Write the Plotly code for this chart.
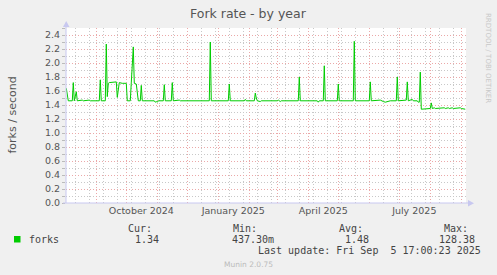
import plotly.graph_objects as go

# ---- data ----
dates = [
    "2024-08-02", "2024-08-04", "2024-08-08", "2024-08-09", "2024-08-10", "2024-08-12", "2024-08-13",
    "2024-08-18", "2024-08-19", "2024-08-25", "2024-08-26", "2024-09-04", "2024-09-05", "2024-09-06",
    "2024-09-10", "2024-09-11", "2024-09-12", "2024-09-13", "2024-09-14", "2024-09-20", "2024-09-21",
    "2024-09-22", "2024-09-24", "2024-09-27", "2024-10-01", "2024-10-02", "2024-10-05", "2024-10-06",
    "2024-10-08", "2024-10-09", "2024-10-11", "2024-10-13", "2024-10-15", "2024-10-16", "2024-10-17",
    "2024-10-29", "2024-10-30", "2024-10-31", "2024-11-01", "2024-11-02", "2024-11-07", "2024-11-08",
    "2024-11-09", "2024-11-15", "2024-11-16", "2024-11-17", "2024-11-23", "2024-11-24", "2024-12-04",
    "2024-12-05", "2024-12-07", "2024-12-08", "2024-12-23", "2024-12-24", "2024-12-25", "2025-01-11",
    "2025-01-12", "2025-01-13", "2025-01-27", "2025-01-28", "2025-01-29", "2025-02-06", "2025-02-07",
    "2025-02-08", "2025-02-09", "2025-02-12", "2025-02-13", "2025-03-01", "2025-03-02", "2025-03-04",
    "2025-03-05", "2025-03-22", "2025-03-23", "2025-03-24", "2025-04-10", "2025-04-11", "2025-04-12",
    "2025-04-16", "2025-04-17", "2025-04-18", "2025-04-30", "2025-05-01", "2025-05-02", "2025-05-16",
    "2025-05-17", "2025-05-18", "2025-06-01", "2025-06-02", "2025-06-03", "2025-06-12", "2025-06-13",
    "2025-06-15", "2025-06-17", "2025-06-20", "2025-06-22", "2025-06-28", "2025-06-29", "2025-06-30",
    "2025-07-07", "2025-07-08", "2025-07-09", "2025-07-10", "2025-07-14", "2025-07-15", "2025-07-19",
    "2025-07-20", "2025-07-21", "2025-07-22", "2025-07-23", "2025-08-01", "2025-08-02", "2025-08-03",
    "2025-08-05", "2025-08-06", "2025-08-15", "2025-08-16", "2025-08-19", "2025-08-20", "2025-08-23",
    "2025-08-24", "2025-08-31", "2025-09-01", "2025-09-05",
]
forks = [
    1.64, 1.46, 1.46, 1.72, 1.46, 1.59, 1.46,
    1.47, 1.46, 1.47, 1.46, 1.46, 1.76, 1.46,
    1.46, 2.27, 1.52, 1.71, 1.72, 1.72, 1.73,
    1.51, 1.72, 1.71, 1.71, 1.46, 1.46, 1.72,
    2.23, 1.71, 1.70, 1.46, 1.46, 1.68, 1.46,
    1.46, 1.44, 1.45, 1.44, 1.46, 1.46, 1.69,
    1.46, 1.46, 1.72, 1.46, 1.47, 1.46, 1.46,
    1.45, 1.45, 1.46, 1.46, 2.30, 1.46, 1.46,
    1.70, 1.46, 1.46, 1.48, 1.46, 1.46, 1.57,
    1.50, 1.46, 1.45, 1.46, 1.46, 1.47, 1.45,
    1.46, 1.46, 1.80, 1.46, 1.46, 1.44, 1.46,
    1.46, 1.96, 1.46, 1.46, 1.70, 1.46, 1.46,
    2.31, 1.46, 1.46, 1.73, 1.46, 1.47, 1.46,
    1.45, 1.44, 1.45, 1.46, 1.46, 1.80, 1.46,
    1.46, 1.47, 1.73, 1.46, 1.48, 1.46, 1.46,
    1.44, 1.44, 1.87, 1.34, 1.35, 1.43, 1.35,
    1.36, 1.35, 1.36, 1.35, 1.36, 1.35, 1.36,
    1.35, 1.36, 1.35, 1.34,
]

x_start = "2024-08-01 17:00"
x_end = "2025-09-05 17:00"

month_starts = ["2024-09-01", "2024-10-01", "2024-11-01", "2024-12-01", "2025-01-01", "2025-02-01",
                "2025-03-01", "2025-04-01", "2025-05-01", "2025-06-01", "2025-07-01", "2025-08-01",
                "2025-09-01"]
minor_grid_dates = ["2024-08-11", "2024-08-25", "2024-09-08", "2024-09-22", "2024-10-06", "2024-10-20",
                    "2024-11-03", "2024-11-17", "2024-12-01", "2024-12-15", "2024-12-29", "2025-01-12",
                    "2025-01-26", "2025-02-09", "2025-02-23", "2025-03-09", "2025-03-23", "2025-04-06",
                    "2025-04-20", "2025-05-04", "2025-05-18", "2025-06-01", "2025-06-15", "2025-06-29",
                    "2025-07-13", "2025-07-27", "2025-08-10", "2025-08-24"]
label_dates = ["2024-10-16", "2025-01-16", "2025-04-16", "2025-07-16"]
label_text = ["October 2024", "January 2025", "April 2025", "July 2025"]

y_ticks = [0.0, 0.2, 0.4, 0.6, 0.8, 1.0, 1.2, 1.4, 1.6, 1.8, 2.0, 2.2, 2.4]

legend_name = "forks"
stat_headers = ["Cur:", "Min:", "Avg:", "Max:"]
stat_values = ["1.34", "437.30m", "1.48", "128.38"]
last_update = "Last update: Fri Sep \u00a05 17:00:23 2025"

# ---- layout geometry ----
FW, FH = 497, 275
L, T, W, H = 66, 28, 400, 175
BOTTOM = FH - T - H


def px(x):
    return (x - L) / W


def py(y):
    return (T + H - y) / H


LINE_GREEN = "#00CC00"
TXT = "#555555"
RED_GRID = "#EBA8A8"
GRAY_GRID = "#C8C8C8"
AXIS_COL = "#C8C8F0"
DOTS = "1px,2px"

fig = go.Figure()
fig.add_trace(go.Scatter(x=dates, y=forks, mode="lines",
                         line=dict(color=LINE_GREEN, width=1), showlegend=False,
                         hoverinfo="skip"))
# carrier for the secondary (label) axis
fig.add_trace(go.Scatter(x=[], y=[], xaxis="x2", showlegend=False, hoverinfo="skip"))

fig.update_layout(
    width=FW, height=FH,
    margin=dict(l=L, r=FW - L - W, t=T, b=BOTTOM, pad=0),
    paper_bgcolor="#F0F0F0",
    plot_bgcolor="#FFFFFF",
    showlegend=False,
    font=dict(family="DejaVu Sans", color=TXT, size=9),
    xaxis=dict(
        type="date", range=[x_start, x_end],
        tickmode="array", tickvals=month_starts, showticklabels=False,
        showgrid=True, gridcolor=RED_GRID, griddash=DOTS, gridwidth=1,
        ticks="", showline=False, zeroline=False,
        minor=dict(tickmode="array", tickvals=minor_grid_dates, showgrid=True,
                   gridcolor=GRAY_GRID, griddash=DOTS, gridwidth=1, ticks=""),
        layer="below traces",
    ),
    xaxis2=dict(
        type="date", range=[x_start, x_end], overlaying="x", anchor="y", side="bottom",
        tickmode="array", tickvals=label_dates, ticktext=label_text,
        showgrid=False, ticks="", showline=False, zeroline=False,
        tickfont=dict(family="DejaVu Sans", size=9.5, color=TXT),
    ),
    yaxis=dict(
        range=[0, 2.5], tickmode="array", tickvals=y_ticks,
        ticktext=[f"{v:.1f}" for v in y_ticks],
        showgrid=True, gridcolor=RED_GRID, griddash=DOTS, gridwidth=1,
        ticks="outside", ticklen=3, tickcolor="#BBBBBB",
        tickfont=dict(family="DejaVu Sans", size=9.5, color=TXT),
        showline=False, zeroline=False,
        minor=dict(dtick=0.1, showgrid=True, gridcolor=GRAY_GRID, griddash=DOTS,
                   gridwidth=1, ticks="outside", ticklen=3, tickcolor="#BBBBBB"),
        layer="below traces",
    ),
)

shapes = []
# y axis with arrow
shapes.append(dict(type="line", xref="paper", yref="paper", x0=px(66), x1=px(66),
                   y0=py(203), y1=py(25), line=dict(color=AXIS_COL, width=1)))
shapes.append(dict(type="path", xref="paper", yref="paper",
                   path=f"M {px(63)},{py(27)} L {px(69.5)},{py(27)} L {px(66.2)},{py(21)} Z",
                   fillcolor=AXIS_COL, line=dict(width=0)))
# x axis with arrow
shapes.append(dict(type="line", xref="paper", yref="paper", x0=px(63), x1=px(469),
                   y0=py(203), y1=py(203), line=dict(color=AXIS_COL, width=1)))
shapes.append(dict(type="path", xref="paper", yref="paper",
                   path=f"M {px(468)},{py(200)} L {px(468)},{py(206.5)} L {px(474)},{py(203.2)} Z",
                   fillcolor=AXIS_COL, line=dict(width=0)))
# legend colour box
shapes.append(dict(type="rect", xref="paper", yref="paper",
                   x0=px(14), x1=px(20.5), y0=py(242.5), y1=py(236),
                   fillcolor=LINE_GREEN, line=dict(width=0)))
fig.update_layout(shapes=shapes)

MONO = dict(family="DejaVu Sans Mono", size=10, color="#444444")
ann = []
ann.append(dict(text="Fork rate - by year", x=px(248.5), y=py(13), xref="paper", yref="paper",
                xanchor="center", yanchor="middle", showarrow=False,
                font=dict(family="DejaVu Sans", size=12.5, color=TXT)))
ann.append(dict(text="forks / second", x=px(11.5), y=py(115), xref="paper", yref="paper",
                xanchor="center", yanchor="middle", textangle=-90, showarrow=False,
                font=dict(family="DejaVu Sans", size=11, color=TXT)))
ann.append(dict(text="RRDTOOL / TOBI OETIKER", x=px(488), y=py(58), xref="paper", yref="paper",
                xanchor="center", yanchor="middle", textangle=90, showarrow=False,
                font=dict(family="DejaVu Sans", size=7, color="#C8C8C8")))
ann.append(dict(text=legend_name, x=px(27), y=py(239), xref="paper", yref="paper",
                xanchor="left", yanchor="middle", showarrow=False, font=MONO))
head_right = [154, 259, 365, 470]
val_right = [161, 276, 371, 477]
for h, hx in zip(stat_headers, head_right):
    ann.append(dict(text=h, x=px(hx), y=py(228), xref="paper", yref="paper",
                    xanchor="right", yanchor="middle", showarrow=False, font=MONO))
for v, vx in zip(stat_values, val_right):
    ann.append(dict(text=v, x=px(vx), y=py(239), xref="paper", yref="paper",
                    xanchor="right", yanchor="middle", showarrow=False, font=MONO))
ann.append(dict(text=last_update, x=px(482.5), y=py(250.5), xref="paper", yref="paper",
                xanchor="right", yanchor="middle", showarrow=False, font=MONO))
ann.append(dict(text="Munin 2.0.75", x=px(248), y=py(264.5), xref="paper", yref="paper",
                xanchor="center", yanchor="middle", showarrow=False,
                font=dict(family="DejaVu Sans", size=7.5, color="#BBBBBB")))
fig.update_layout(annotations=ann)

fig.write_html("out.html", config=dict(displayModeBar=False))
